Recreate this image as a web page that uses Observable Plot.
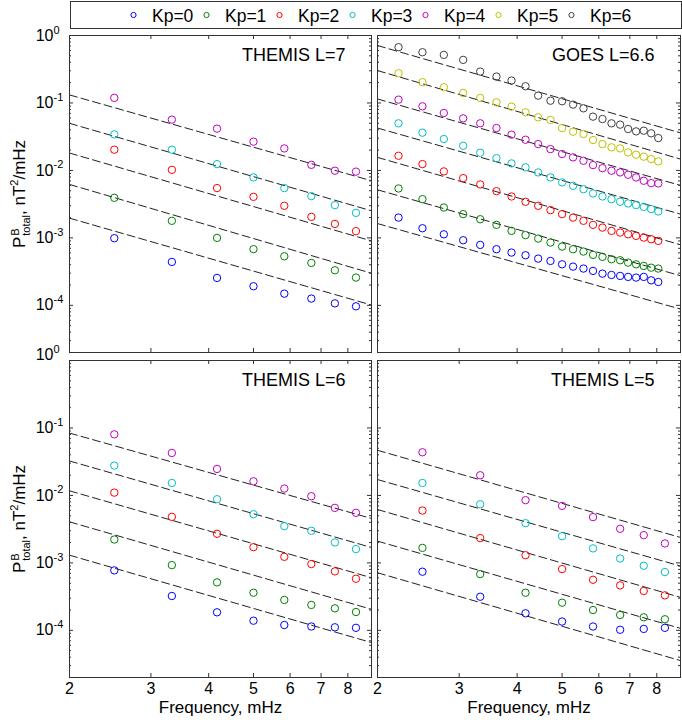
<!DOCTYPE html>
<html><head><meta charset="utf-8">
<script src="https://cdn.jsdelivr.net/npm/d3@7"></script>
<script src="https://cdn.jsdelivr.net/npm/@observablehq/plot@0.6"></script>
<style>
body{margin:0;background:#fff;}
#root{position:relative;width:682px;height:720px;font-family:"Liberation Sans",Arial,sans-serif;color:#000;overflow:hidden;}
#root svg{position:absolute;}
.ytitle{position:absolute;white-space:nowrap;font-size:17px;line-height:17px;transform:translate(-50%,-50%) rotate(-90deg);}
.ss{display:inline-flex;flex-direction:column;vertical-align:middle;font-size:11px;line-height:11px;margin-left:1px;}
.sp{font-size:11px;position:relative;top:-7px;}
</style></head><body><div id="root"></div>
<script>
// ---------- data ----------
const kpLabels = ["Kp=0","Kp=1","Kp=2","Kp=3","Kp=4","Kp=5","Kp=6"];
const kpColors = ["#0000ff","#008000","#ff0000","#00bfbf","#bf00bf","#bfbf00","#404040"];

const freqThemis = [2.5, 3.33, 4.17, 5.0, 5.83, 6.67, 7.5, 8.33];
const freqGoes = [2.22, 2.5, 2.78, 3.06, 3.33, 3.61, 3.89, 4.17, 4.44, 4.72, 5.0, 5.28, 5.56, 5.83, 6.11, 6.39, 6.67, 6.94, 7.22, 7.5, 7.78, 8.06];
const fitFreqs = [2, 9];

const xTicks = [2, 3, 4, 5, 6, 7, 8];
const xTickLabels = ["2","3","4","5","6","7","8"];
const yTicks = [1, 0.1, 0.01, 0.001, 0.0001];
const yTickExponents = ["0","-1","-2","-3","-4"];
const xTitle = "Frequency, mHz";

// THEMIS L=7 (rows Kp=0..4)
const themisL7 = [
  [0.00099, 0.00044, 0.000255, 0.000192, 0.000149, 0.000126, 0.000107, 0.0000967],
  [0.00393, 0.00179, 0.00100, 0.00068, 0.000534, 0.000425, 0.000331, 0.000258],
  [0.0203, 0.0102, 0.00547, 0.00406, 0.00299, 0.00205, 0.00161, 0.00126],
  [0.0342, 0.0203, 0.0124, 0.00787, 0.00547, 0.00416, 0.00306, 0.00235],
  [0.119, 0.0566, 0.0416, 0.0267, 0.0212, 0.0121, 0.0099, 0.0096]
];
const themisL7FitAt2 = [0.00196, 0.0062, 0.0181, 0.0499, 0.1316];
const themisL7FitAt9 = [0.000101, 0.000299, 0.000902, 0.00252, 0.00703];

// GOES L=6.6 (rows Kp=0..6)
const goesL66 = [
  [0.00200,0.00139,0.00113,0.000923,0.000787,0.000679,0.000606,0.000553,0.000493,0.000455,0.000406,0.000375,0.000351,0.000324,0.000295,0.000282,0.000273,0.000264,0.000258,0.000264,0.000235,0.000222],
  [0.00540,0.00375,0.00282,0.00225,0.00189,0.00156,0.00127,0.00110,0.000977,0.000853,0.000743,0.000679,0.000627,0.000560,0.000523,0.000482,0.000466,0.000430,0.000406,0.000384,0.000362,0.000351],
  [0.0165,0.0124,0.00967,0.00769,0.00619,0.00493,0.00411,0.00343,0.00299,0.00258,0.00225,0.00200,0.00179,0.00156,0.00142,0.00127,0.00120,0.00113,0.00107,0.00101,0.000955,0.000902],
  [0.0499,0.0363,0.0292,0.0232,0.0183,0.0152,0.0127,0.0111,0.00934,0.00787,0.00664,0.00592,0.00528,0.00455,0.00411,0.00375,0.00343,0.00324,0.00306,0.00288,0.00267,0.00246],
  [0.112,0.0892,0.0710,0.0591,0.0499,0.0425,0.0339,0.0285,0.0246,0.0207,0.0175,0.0156,0.0139,0.0120,0.0108,0.00989,0.00934,0.00862,0.00787,0.00703,0.00649,0.00641],
  [0.276,0.203,0.171,0.141,0.1187,0.1023,0.0883,0.0727,0.0612,0.0560,0.0425,0.0375,0.0347,0.0282,0.0246,0.0220,0.0212,0.0185,0.0171,0.0160,0.0147,0.0136],
  [0.671,0.565,0.516,0.435,0.292,0.246,0.215,0.177,0.1285,0.108,0.106,0.0945,0.0833,0.0627,0.0578,0.0499,0.0477,0.0411,0.0379,0.0388,0.0355,0.0302]
];
const goesL66FitAt2 = [0.00163, 0.00516, 0.0156, 0.0425, 0.1146, 0.302, 0.710];
const goesL66FitAt9 = [0.000088, 0.000275, 0.00079, 0.00225, 0.0060, 0.0147, 0.036];

// THEMIS L=6
const themisL6 = [
  [0.000774, 0.000323, 0.000185, 0.000139, 0.000120, 0.000114, 0.000111, 0.000109],
  [0.00222, 0.000927, 0.000514, 0.000361, 0.000282, 0.000238, 0.000212, 0.000187],
  [0.0110, 0.00481, 0.00270, 0.00171, 0.00123, 0.00096, 0.000748, 0.000582],
  [0.0277, 0.0153, 0.00879, 0.00527, 0.00350, 0.00299, 0.00201, 0.00160],
  [0.0804, 0.0426, 0.0247, 0.0162, 0.01264, 0.00973, 0.00654, 0.00552]
];
const themisL6FitAt2 = [0.0013, 0.00406, 0.0117, 0.0324, 0.084];
const themisL6FitAt9 = [0.0000659, 0.000205, 0.000602, 0.00169, 0.00455];

// THEMIS L=5
const themisL5 = [
  [0.00074, 0.000315, 0.000179, 0.000135, 0.000114, 0.000102, 0.000105, 0.000109],
  [0.00167, 0.000682, 0.000361, 0.000257, 0.000200, 0.000169, 0.000156, 0.000146],
  [0.00597, 0.00233, 0.00130, 0.000809, 0.000562, 0.000464, 0.000383, 0.00033],
  [0.0153, 0.0074, 0.00388, 0.00249, 0.00164, 0.00116, 0.000906, 0.000731],
  [0.0436, 0.0199, 0.0085, 0.0070, 0.00477, 0.0032, 0.00258, 0.00194]
];
const themisL5FitAt2 = [0.000714, 0.0021, 0.00618, 0.0172, 0.0467];
const themisL5FitAt9 = [0.0000356, 0.000107, 0.000308, 0.000897, 0.00238];

// ---------- drawing ----------
const axisColor = "#333";
const font = "Liberation Sans, Arial, sans-serif";
const yMinor = d3.scaleLog().domain([2e-5, 1]).ticks().filter(v => !yTicks.some(t => Math.abs(t - v) / t < 1e-6));
const yTickRows = yTicks.map((v, i) => ({v, e: yTickExponents[i]}));
const root = document.getElementById("root");

function panel(o) {
  const rows = o.series.flatMap((vals, k) => vals.map((p, i) => ({f: o.freqs[i], p, kp: kpLabels[k]})));
  const fits = o.fit2.flatMap((p0, k) => [
    {f: fitFreqs[0], p: p0, kp: kpLabels[k]},
    {f: fitFreqs[1], p: o.fit9[k], kp: kpLabels[k]}
  ]);
  const pw = o.width - o.mL - o.mR, ph = o.height - o.mT - o.mB;
  const marks = [
    Plot.line(fits, {x: "f", y: "p", z: "kp", stroke: "#222", strokeWidth: 1, strokeDasharray: "8,4"}),
    Plot.dot(rows, {x: "f", y: "p", stroke: "kp", r: 3.7, strokeWidth: 1}),
    Plot.ruleX(xTicks, {x: d => d, insetBottom: ph - 4, stroke: axisColor}),
    Plot.ruleX(xTicks, {x: d => d, insetTop: ph - 4, stroke: axisColor}),
    Plot.ruleY(yTicks, {y: d => d, insetRight: pw - 4, stroke: axisColor}),
    Plot.ruleY(yTicks, {y: d => d, insetLeft: pw - 4, stroke: axisColor}),
    Plot.ruleY(yMinor, {y: d => d, insetRight: pw - 2, stroke: axisColor}),
    Plot.ruleY(yMinor, {y: d => d, insetLeft: pw - 2, stroke: axisColor}),
    Plot.frame({stroke: axisColor}),
    Plot.text([o.title], {frameAnchor: "top-right", textAnchor: "end", lineAnchor: "middle", dx: -26, dy: 20, fontSize: 18, fontFamily: font})
  ];
  if (o.yLabels) {
    const normal = yTickRows.filter(d => d.v !== 1);
    const top = yTickRows.filter(d => d.v === 1);
    marks.push(
      Plot.text(normal, {y: "v", frameAnchor: "left", textAnchor: "end", lineAnchor: "middle", dx: -16, text: () => "10", fontSize: 16, fontFamily: font}),
      Plot.text(normal, {y: "v", frameAnchor: "left", textAnchor: "start", lineAnchor: "middle", dx: -16, dy: -5.5, text: "e", fontSize: 11, fontFamily: font}),
      Plot.text(top, {y: "v", frameAnchor: "left", textAnchor: "end", lineAnchor: "middle", dx: -16, dy: o.topDy, text: () => "10", fontSize: 16, fontFamily: font}),
      Plot.text(top, {y: "v", frameAnchor: "left", textAnchor: "start", lineAnchor: "middle", dx: -16, dy: o.topDy - 5.5, text: "e", fontSize: 11, fontFamily: font})
    );
  }
  if (o.xLabels) {
    marks.push(
      Plot.text(xTicks, {x: d => d, frameAnchor: "bottom", lineAnchor: "middle", dy: 11.5, text: (d, i) => xTickLabels[i], fontSize: 16, fontFamily: font}),
      Plot.text([xTitle], {frameAnchor: "bottom", lineAnchor: "middle", dy: 30.3, fontSize: 17, fontFamily: font})
    );
  }
  const svg = Plot.plot({
    width: o.width, height: o.height,
    marginLeft: o.mL, marginRight: o.mR, marginTop: o.mT, marginBottom: o.mB,
    x: {type: "log", domain: [2, 9], axis: null},
    y: {type: "log", domain: [2e-5, 1], axis: null},
    color: {domain: kpLabels, range: kpColors},
    style: {background: "transparent", overflow: "visible", fontFamily: font},
    marks
  });
  svg.style.left = o.left + "px";
  svg.style.top = o.top + "px";
  root.appendChild(svg);
}

// legend
const legend = Plot.plot({
  width: 682, height: 30, marginLeft: 70, marginRight: 1, marginTop: 1, marginBottom: 2,
  x: {type: "point", domain: kpLabels, range: [94, 610], axis: null},
  color: {domain: kpLabels, range: kpColors},
  style: {background: "transparent", overflow: "visible", fontFamily: font},
  marks: [
    Plot.frame({stroke: axisColor}),
    Plot.dot(kpLabels, {x: d => d, stroke: d => d, r: 2.6, strokeWidth: 1}),
    Plot.text(kpLabels, {x: d => d, text: d => d, textAnchor: "start", lineAnchor: "middle", dx: 18.5, dy: 1.5, fontSize: 17.5, fontFamily: font})
  ]
});
legend.style.left = "0px";
legend.style.top = "0px";
root.appendChild(legend);

panel({title: "THEMIS L=7", freqs: freqThemis, series: themisL7, fit2: themisL7FitAt2, fit9: themisL7FitAt9,
  left: 0, top: 30, width: 374, height: 326, mL: 69, mR: 3, mT: 5, mB: 4, yLabels: true, xLabels: false, topDy: 0});
panel({title: "GOES L=6.6", freqs: freqGoes, series: goesL66, fit2: goesL66FitAt2, fit9: goesL66FitAt9,
  left: 372, top: 30, width: 310, height: 326, mL: 5, mR: 2, mT: 5, mB: 4, yLabels: false, xLabels: false});
panel({title: "THEMIS L=6", freqs: freqThemis, series: themisL6, fit2: themisL6FitAt2, fit9: themisL6FitAt9,
  left: 0, top: 340, width: 374, height: 380, mL: 69, mR: 3, mT: 20, mB: 43, yLabels: true, xLabels: true, topDy: -6});
panel({title: "THEMIS L=5", freqs: freqThemis, series: themisL5, fit2: themisL5FitAt2, fit9: themisL5FitAt9,
  left: 372, top: 340, width: 310, height: 380, mL: 5, mR: 2, mT: 20, mB: 43, yLabels: false, xLabels: true});

// y-axis titles
for (const cy of [193.5, 518.5]) {
  const d = document.createElement("div");
  d.className = "ytitle";
  d.style.left = "21px";
  d.style.top = cy + "px";
  d.innerHTML = 'P<span class="ss"><span>B</span><span>total</span></span>, nT<span class="sp">2</span>/mHz';
  root.appendChild(d);
}
</script></body></html>
